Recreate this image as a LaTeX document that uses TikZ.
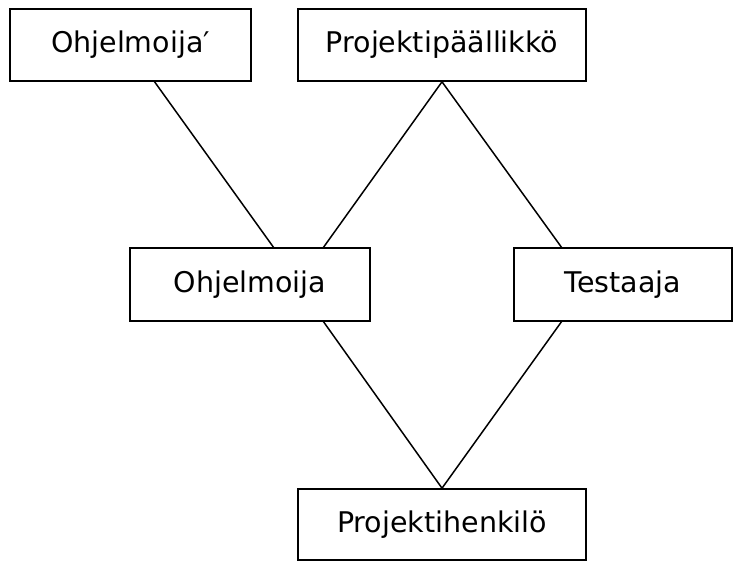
\documentclass[tikz,border=0pt]{standalone}
\usepackage{fontspec}
\setmainfont{DejaVu Sans}
\begin{document}
\begin{tikzpicture}[x=1pt,y=-1pt,
  role/.style={draw,line width=1.6pt,inner sep=0pt,font=\fontsize{28.5}{32}\selectfont},
  link/.style={line width=1.5pt}]
\useasboundingbox (0,0) rectangle (744,561);
\node[role,minimum width=241pt,minimum height=72pt] (op) at (130.5,45) {Ohjelmoija′};
\node[role,minimum width=288pt,minimum height=72pt] (pp) at (442,45) {Projektipäällikkö};
\node[role,minimum width=240pt,minimum height=73pt] (oj) at (250,284.5) {Ohjelmoija};
\node[role,minimum width=218pt,minimum height=73pt] (te) at (623,284.5) {Testaaja};
\node[role,minimum width=288pt,minimum height=71pt] (ph) at (442,524.5) {Projektihenkilö};
\coordinate (a1) at (154,81);
\coordinate (a2) at (274,248);
\draw[link] (a1) -- (a2);
\draw[link] (pp.south) -- (323,248) coordinate (b1);
\draw[link] (pp.south) -- (562,248) coordinate (b2);
\draw[link] (323,321) coordinate (c1) -- (ph.north);
\draw[link] (562,321) coordinate (c2) -- (ph.north);
\end{tikzpicture}
\end{document}
